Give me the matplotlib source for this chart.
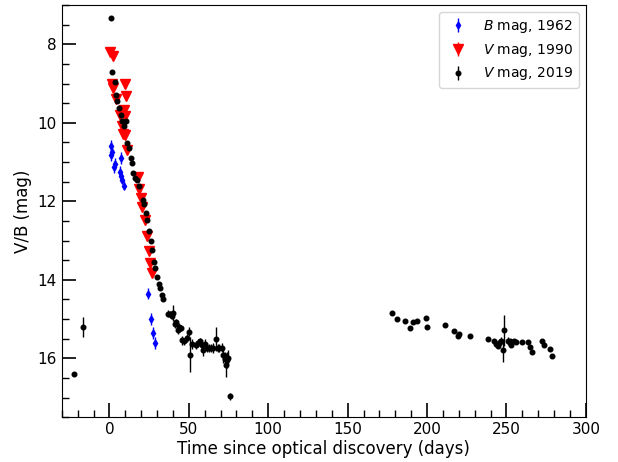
import numpy as np
import matplotlib
matplotlib.use("Agg")
import matplotlib.pyplot as plt
from matplotlib.ticker import MultipleLocator

# B mag, 1962
b_t = [1.1, 1.5, 1.1, 3.8, 2.9, 7.1, 6.9, 7.4, 7.8, 9.2, 24.2, 26.2, 27.3, 28.4]
b_m = [10.60, 10.75, 10.82, 11.04, 11.12, 10.89, 11.26, 11.36, 11.45, 11.60,
       14.35, 14.99, 15.35, 15.61]
b_e = [0.15, 0.15, 0.15, 0.15, 0.15, 0.15, 0.15, 0.15, 0.12, 0.12, 0.15, 0.15, 0.15, 0.15]

# V mag, 1990
r_t = [0.4, 2.5, 1.5, 2.5, 9.9, 10.3, 4.2, 9.0, 6.9, 9.7, 7.8, 8.4, 10.1, 10.9,
       18.1, 18.9, 19.7, 20.6, 22.1, 23.9, 24.8, 25.6, 26.9]
r_m = [8.20, 8.31, 9.00, 9.10, 9.00, 9.31, 9.39, 9.68, 9.80, 9.82, 10.07, 10.29,
       10.31, 10.70, 11.37, 11.69, 11.91, 12.14, 12.48, 12.89, 13.27, 13.57, 13.83]
r_e = [0.1] * len(r_t)

# V mag, 2019
k_t = [1.1, 1.9, 3.2, 4.0, 5.0, 5.9, 7.1, 8.0, 9.2, 10.3, 11.3, 12.6, 13.4, 14.2,
       15.1, 16.4, 17.2, 18.5, 21.0, 21.9, 23.1, 23.9, 24.8, 26.0, 26.9, 27.9,
       29.0, 30.0, 31.1, 31.9, 33.0, 34.0, 37.0, 38.2, 39.1, 39.9, 41.2, 42.0,
       43.3, 44.1, 44.9, 45.8, 47.1, 48.7, 50.0, 50.8, 52.1, 54.6, 55.9, 57.1,
       58.4, 59.2, 60.1, 61.3, 62.6, 63.8, 65.1, 66.8, 68.1, 69.3, 70.6, 71.4,
       72.7, 73.5, 73.9, 74.8, 76.0, -16.8, -22.1,
       178.1, 181.3, 186.3, 189.3, 191.1, 193.9, 199.1, 200.2, 211.3, 217.2,
       219.3, 220.3, 227.0, 238.2, 242.0, 243.6, 244.5, 245.3, 246.6, 247.8,
       248.7, 251.2, 252.0, 252.9, 255.0, 255.8, 260.0, 263.8, 264.6, 265.9,
       272.6, 273.8, 277.7, 278.9]
k_m = [7.34, 8.70, 8.97, 9.29, 9.44, 9.63, 9.80, 9.95, 10.07, 9.95, 10.51, 10.65,
       10.90, 11.03, 11.29, 11.41, 11.46, 11.60, 11.96, 12.06, 12.30, 12.47,
       12.76, 13.01, 13.25, 13.54, 13.71, 13.94, 14.10, 14.22, 14.39, 14.49,
       14.86, 14.88, 14.93, 14.85, 15.12, 15.07, 15.29, 15.20, 15.22, 15.54,
       15.57, 15.49, 15.32, 15.91, 15.64, 15.66, 15.61, 15.57, 15.67, 15.80,
       15.63, 15.73, 15.73, 15.73, 15.74, 15.51, 15.74, 15.74, 15.73, 15.91,
       16.03, 16.17, 16.05, 15.98, 16.97, 15.20, 16.41,
       14.85, 15.00, 15.06, 15.23, 15.08, 15.06, 14.97, 15.19, 15.16, 15.31,
       15.42, 15.37, 15.44, 15.50, 15.55, 15.64, 15.69, 15.61, 15.56, 15.80,
       15.29, 15.56, 15.57, 15.66, 15.56, 15.59, 15.59, 15.59, 15.71, 15.83,
       15.57, 15.67, 15.76, 15.93]
k_e = [0.04] * 32 + [0.08, 0.08, 0.08, 0.2, 0.1, 0.08, 0.1, 0.1, 0.08, 0.12,
       0.1, 0.1, 0.12, 0.45, 0.12, 0.1, 0.1, 0.1, 0.12, 0.15, 0.12, 0.1, 0.1,
       0.1, 0.12, 0.3, 0.1, 0.1, 0.12, 0.2, 0.2, 0.3, 0.2, 0.2, 0.08, 0.25, 0.04] \
    + [0.04] * 17 + [0.1, 0.1, 0.3, 0.4, 0.1] + [0.04] * 12

fig = plt.figure(figsize=(6.18, 4.62), dpi=100)
ax = fig.add_axes([0.1, 0.097, 0.848, 0.892])

ax.errorbar(b_t, b_m, yerr=b_e, fmt="d", color="blue", ms=3.5, elinewidth=1,
            capsize=0, label="$B$ mag, 1962", zorder=3)
ax.errorbar(r_t, r_m, yerr=r_e, fmt="v", color="red", ms=6.5, elinewidth=1,
            capsize=0, label="$V$ mag, 1990", zorder=2)
ax.errorbar(k_t, k_m, yerr=k_e, fmt="o", color="black", ms=3.3, elinewidth=1,
            capsize=0, label="$V$ mag, 2019", zorder=4)

ax.set_xlim(-30, 300)
ax.set_ylim(17.5, 7.0)
ax.xaxis.set_major_locator(MultipleLocator(50))
ax.xaxis.set_minor_locator(MultipleLocator(10))
ax.yaxis.set_major_locator(MultipleLocator(2))
ax.yaxis.set_minor_locator(MultipleLocator(0.5))
ax.tick_params(which="major", direction="in", length=10, width=1.2, labelsize=11)
ax.tick_params(which="minor", direction="in", length=5, width=1)
ax.set_xlabel("Time since optical discovery (days)", fontsize=12, labelpad=2)
ax.set_ylabel("V/B (mag)", fontsize=12)
ax.legend(loc="upper right", fontsize=10)

fig.savefig("out.png", dpi=100)
